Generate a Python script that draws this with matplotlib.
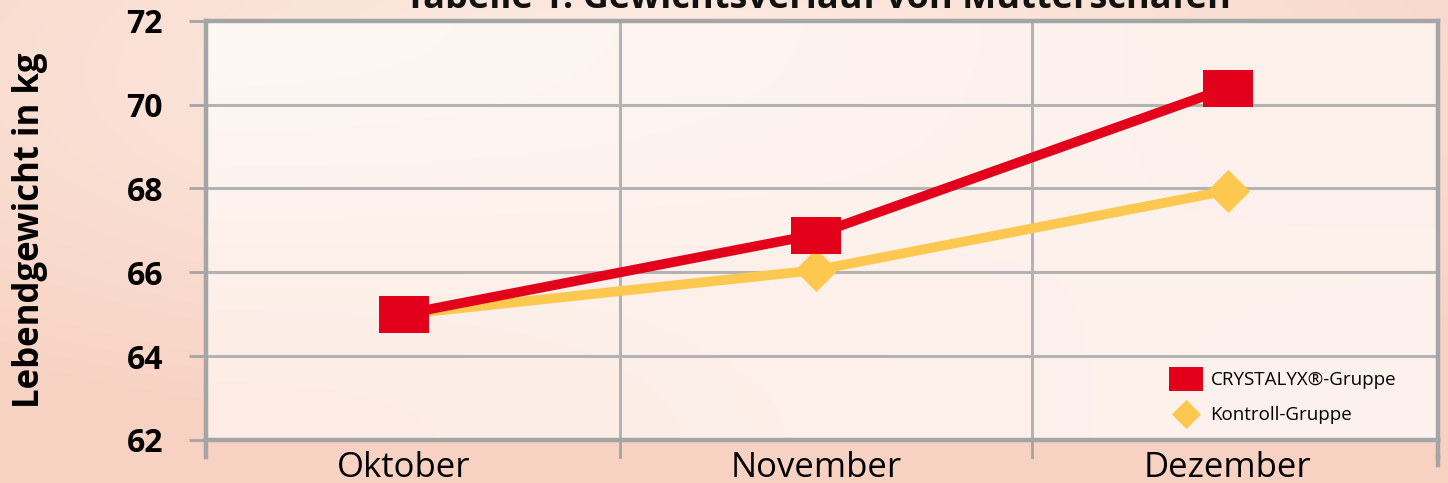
import numpy as np
import matplotlib
matplotlib.use("Agg")
import matplotlib.pyplot as plt
from matplotlib.lines import Line2D

plt.rcParams['font.family'] = ['Open Sans', 'DejaVu Sans']

# ---- data ----
months = ["Oktober", "November", "Dezember"]
crystalyx = [65.0, 66.9, 70.4]
kontroll = [65.0, 66.05, 67.95]
y_ticks = [62, 64, 66, 68, 70, 72]
title = "Tabelle 1: Gewichtsverlauf von Mutterschafen"
ylabel = "Lebendgewicht in kg"
series_names = ["CRYSTALYX\u00ae-Gruppe", "Kontroll-Gruppe"]

RED = "#e2001a"
YEL = "#fdc84f"
GRID = "#b3b3b3"
SPINE = "#a3a5a6"

W, H = 1448, 483
fig = plt.figure(figsize=(W / 100, H / 100), dpi=100)

# background gradient
bg = fig.add_axes([0, 0, 1, 1])
yy, xx = np.mgrid[0:1:200j, 0:1:400j]
r = np.sqrt(((xx - 0.45) / 0.8) ** 2 + ((yy - 0.15) / 0.8) ** 2)
t = np.clip(r, 0, 1)
c_in = np.array([0.99, 0.93, 0.90])
c_out = np.array([0.97, 0.82, 0.76])
img = c_in[None, None, :] * (1 - t[..., None]) + c_out[None, None, :] * t[..., None]
bg.imshow(img, extent=[0, 1, 0, 1], aspect='auto', origin='upper')
bg.axis('off')

x0, x1 = 206 / W, 1438 / W
y0, y1 = 1 - 440 / H, 1 - 20.7 / H
ax = fig.add_axes([x0, y0, x1 - x0, y1 - y0])

# plot area gradient
ax.imshow(np.array([[[0.997, 0.97, 0.955], [0.99, 0.94, 0.92]],
                    [[0.99, 0.925, 0.895], [0.995, 0.95, 0.935]]]),
          extent=[-0.48, 2.51, 62, 72], aspect='auto', interpolation='bicubic',
          zorder=0)

x = np.arange(len(months))
ax.set_xlim(-0.48, 2.51)
ax.set_ylim(62, 72)

# gridlines
for v in y_ticks[1:-1]:
    ax.axhline(v, color=GRID, lw=2.2, zorder=1)
for b in [0.524, 1.524]:
    ax.axvline(b, color=GRID, lw=2.2, zorder=1)

rect = [(-1, -0.74), (1, -0.74), (1, 0.74), (-1, 0.74), (-1, -0.74)]
diam = [(0, 1), (1, 0), (0, -1), (-1, 0), (0, 1)]

ax.plot(x, kontroll, color=YEL, lw=7, marker=diam, markersize=31,
        markeredgewidth=0, zorder=3, solid_capstyle='butt', markevery=[1, 2])
ax.plot(x, crystalyx, color=RED, lw=7, marker=rect, markersize=36,
        markeredgewidth=0, zorder=4, solid_capstyle='butt')

# spines
for s in ['left', 'bottom', 'top', 'right']:
    ax.spines[s].set_color(SPINE)
    ax.spines[s].set_linewidth(3.2)
    ax.spines[s].set_zorder(5)

ax.set_yticks(y_ticks)
ax.set_yticklabels([str(v) for v in y_ticks], fontsize=23, fontweight='bold')
ax.tick_params(axis='y', length=12, width=2, color=SPINE, pad=19)
ax.set_xticks(x)
ax.set_xticklabels(months, fontsize=25)
ax.tick_params(axis='x', length=0, pad=8)

# x boundary ticks below axis
for b in [-0.48, 0.524, 1.524, 2.51]:
    ax.plot([b, b], [62, 61.6], color=SPINE, lw=2 if b not in (-0.48, 2.51) else 3.2,
            clip_on=False, zorder=5)
ax.plot([2.51, 2.51], [61.6, 61.4], color=SPINE, lw=3.2, clip_on=False, zorder=5)

ax.set_ylabel(ylabel, fontsize=25, fontweight='bold')
ax.yaxis.set_label_coords(-(206 - 48) / (1438 - 206), 0.5)

handles = [
    Line2D([], [], ls='none', marker=rect, markersize=24, color=RED, markeredgewidth=0),
    Line2D([], [], ls='none', marker=diam, markersize=21, color=YEL, markeredgewidth=0),
]
leg = ax.legend(handles, series_names, loc='lower right', frameon=False,
                fontsize=13.5, handletextpad=0.3, labelspacing=0.9,
                bbox_to_anchor=(0.972, 0.02), borderaxespad=0)

fig.text(818 / W, 1 - 8 / H, title, ha='center', va='baseline',
         fontsize=26, fontweight='bold', color='#111111')

fig.savefig("out.png", dpi=100)
